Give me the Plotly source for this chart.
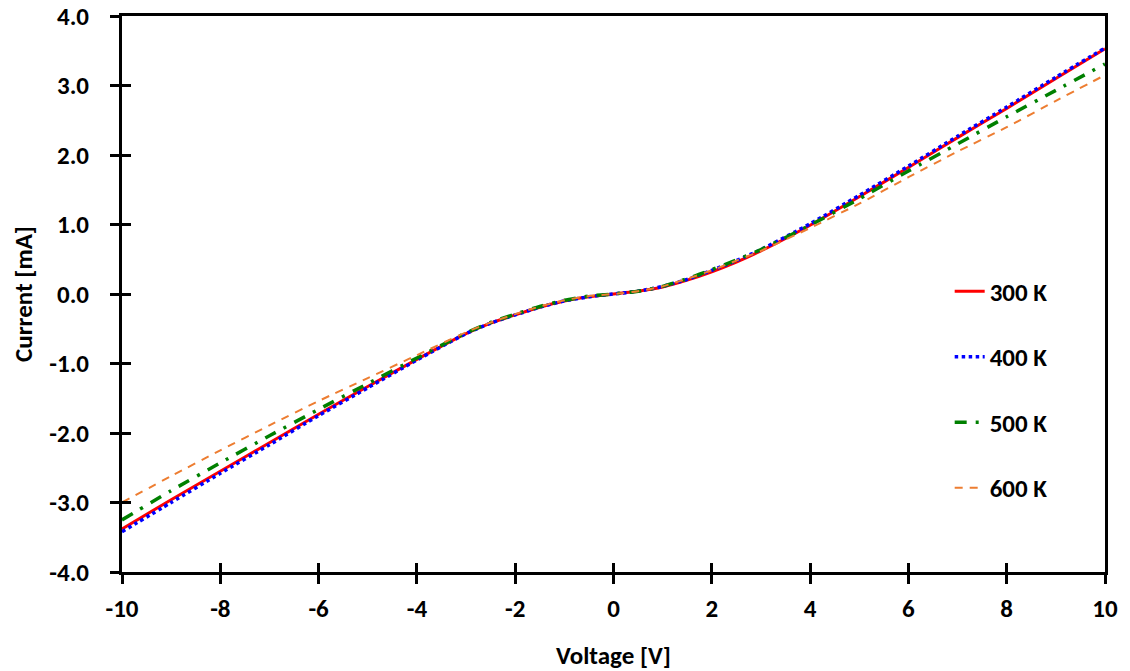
import plotly.graph_objects as go

voltage = [-10, -9, -8, -7, -6, -5, -4, -3, -2.5, -2, -1.5, -1, -0.5, 0,
           0.5, 1, 1.5, 2, 2.5, 3, 4, 5, 6, 7, 8, 9, 10]

i_300 = [-3.38, -2.96, -2.55, -2.14, -1.73, -1.33, -0.94, -0.57, -0.42, -0.30, -0.19, -0.10, -0.04, 0.0,
         0.04, 0.10, 0.20, 0.32, 0.46, 0.62, 0.99, 1.40, 1.82, 2.25, 2.67, 3.10, 3.53]
i_400 = [-3.42, -3.00, -2.58, -2.17, -1.75, -1.35, -0.95, -0.57, -0.42, -0.30, -0.19, -0.10, -0.04, 0.0,
         0.04, 0.11, 0.21, 0.34, 0.48, 0.64, 1.01, 1.42, 1.84, 2.27, 2.69, 3.12, 3.54]
i_500 = [-3.25, -2.83, -2.43, -2.04, -1.66, -1.29, -0.92, -0.56, -0.41, -0.29, -0.18, -0.09, -0.03, 0.0,
         0.04, 0.11, 0.22, 0.35, 0.49, 0.64, 0.99, 1.37, 1.77, 2.16, 2.55, 2.93, 3.31]
i_600 = [-3.00, -2.62, -2.25, -1.89, -1.54, -1.21, -0.88, -0.55, -0.41, -0.29, -0.18, -0.09, -0.03, 0.0,
         0.04, 0.11, 0.22, 0.34, 0.48, 0.62, 0.95, 1.30, 1.68, 2.05, 2.40, 2.78, 3.15]

labels = ["300 K", "400 K", "500 K", "600 K"]
colors = ["#FF0000", "#0000FF", "#008000", "#ED7D31"]
dashes = ["solid", "dot", "12px,9px,3px,9px", "8px,7px"]
widths = [3, 3.5, 3.5, 2]

x_ticks = [-10, -8, -6, -4, -2, 0, 2, 4, 6, 8, 10]
y_ticks = [-4, -3, -2, -1, 0, 1, 2, 3, 4]

FONT = "Carlito, Lato, sans-serif"

fig = go.Figure()
for k, ys in enumerate([i_300, i_400, i_500, i_600]):
    fig.add_trace(go.Scatter(
        x=voltage, y=ys, mode="lines", name=labels[k],
        legendgroup=labels[k],
        line=dict(color=colors[k], width=widths[k], dash=dashes[k], shape="spline", smoothing=0.6),
    ))

# invisible trace on overlay axes to carry inside ticks
fig.add_trace(go.Scatter(x=[-10], y=[-4], xaxis="x2", yaxis="y2", mode="markers",
                         marker=dict(opacity=0), showlegend=False, hoverinfo="skip"))

axis_common = dict(showgrid=False, zeroline=False, linecolor="black", linewidth=3, automargin=False,
                   ticks="outside", ticklen=9, tickwidth=3, tickcolor="black",
                   tickfont=dict(family=FONT, size=25, color="black", weight="bold"))

fig.update_layout(
    width=1130, height=671,
    margin=dict(l=122, r=25, t=16, b=99),
    paper_bgcolor="white", plot_bgcolor="white",
    xaxis=dict(range=[-10, 10], tickvals=x_ticks, ticktext=[str(v) for v in x_ticks],
               showline=True, mirror=True, ticklabelstandoff=3,
               title=dict(text="Voltage [V]", font=dict(family=FONT, size=25, color="black", weight="bold"),
                          standoff=25),
               **axis_common),
    yaxis=dict(range=[-4, 4], tickvals=y_ticks, ticktext=[f"{v:.1f}" for v in y_ticks],
               showline=True, mirror=True, ticklabelstandoff=16,
               title=dict(text="Current [mA]", font=dict(family=FONT, size=25, color="black", weight="bold"),
                          standoff=10),
               **axis_common),
    xaxis2=dict(range=[-10, 10], overlaying="x", anchor="y2", tickvals=x_ticks, showticklabels=False,
                showgrid=False, zeroline=False, showline=False, ticks="inside", ticklen=9,
                tickwidth=3, tickcolor="black", automargin=False),
    yaxis2=dict(range=[-4, 4], overlaying="y", anchor="x2", tickvals=y_ticks, showticklabels=False,
                showgrid=False, zeroline=False, showline=False, ticks="inside", ticklen=9,
                tickwidth=3, tickcolor="black", automargin=False),
    legend=dict(x=0.842, y=0.546, xanchor="left", yanchor="top", traceorder="grouped",
                tracegroupgap=30, bgcolor="rgba(0,0,0,0)",
                font=dict(family=FONT, size=25, color="black", weight="bold")),
    showlegend=True,
)

fig.write_html("out.html")
